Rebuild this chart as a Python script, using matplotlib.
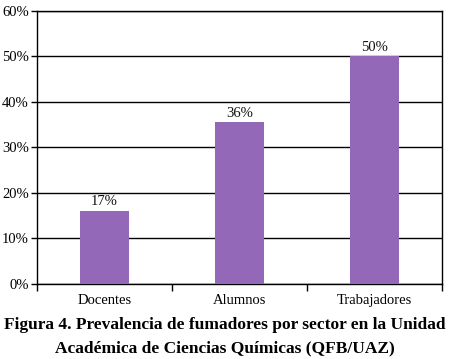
import matplotlib
matplotlib.use("Agg")
import matplotlib.pyplot as plt
from matplotlib.ticker import FuncFormatter

categories = ["Docentes", "Alumnos", "Trabajadores"]
values = [16.0, 35.5, 50.0]
value_labels = ["17%", "36%", "50%"]
yticks = [0, 10, 20, 30, 40, 50, 60]
title_lines = ["Figura 4. Prevalencia de fumadores por sector en la Unidad",
               "Académica de Ciencias Químicas (QFB/UAZ)"]

plt.rcParams['font.family'] = ['Liberation Serif', 'DejaVu Serif']

fig = plt.figure(figsize=(4.5, 3.59), dpi=100)
ax = fig.add_axes([37/450, 1-284/359, 405/450, (284-10.7)/359])

x = list(range(len(categories)))
bars = ax.bar(x, values, width=0.36, color='#9368b8', zorder=3)
for xi, v, lab in zip(x, values, value_labels):
    ax.text(xi, v + 0.6, lab, ha='center', va='bottom', fontsize=10.5, color='#111111')

ax.set_xlim(-0.5, len(categories) - 0.5)
ax.set_ylim(0, 60)
ax.set_yticks(yticks)
ax.yaxis.set_major_formatter(FuncFormatter(lambda v, p: f"{int(v)}%"))
ax.grid(axis='y', color='black', linewidth=1.0, zorder=0)
ax.set_xticks(x)
ax.set_xticklabels(categories, fontsize=10.5)
ax.set_xticks([i - 0.5 for i in range(len(categories) + 1)], minor=True)
ax.tick_params(axis='x', which='major', length=0, pad=7)
ax.tick_params(axis='x', which='minor', length=5, width=1, direction='out')
ax.tick_params(axis='y', length=4, width=1, labelsize=10.5, pad=2)
for s in ax.spines.values():
    s.set_linewidth(1.0)
    s.set_color('black')

fig.text(0.5, 1-325/359, title_lines[0], ha='center', va='center', fontsize=12.5, fontweight='bold')
fig.text(0.5, 1-348/359, title_lines[1], ha='center', va='center', fontsize=12.5, fontweight='bold')

fig.savefig("out.png", dpi=100)
